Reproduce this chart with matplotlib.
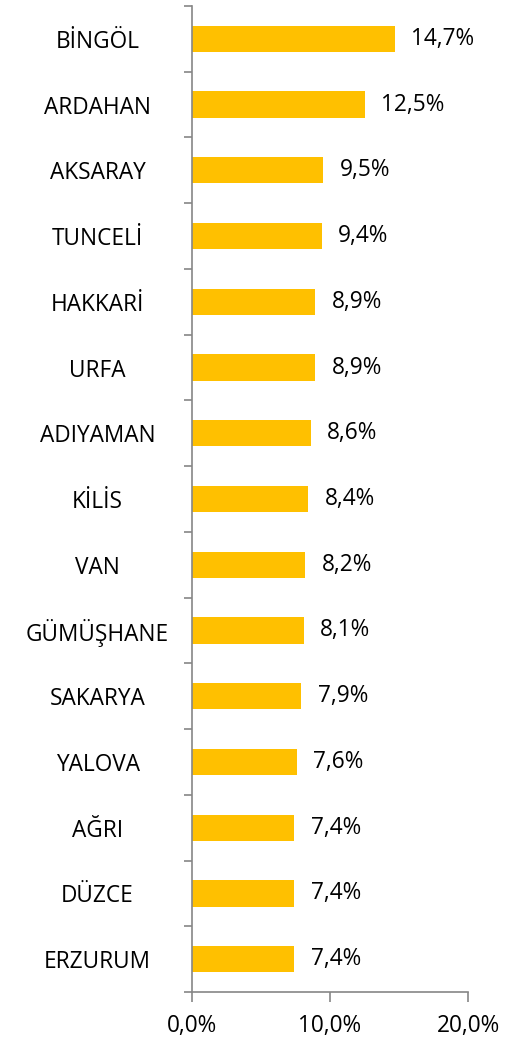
import matplotlib
matplotlib.use("Agg")
import matplotlib.pyplot as plt
import numpy as np

cities = ["BİNGÖL", "ARDAHAN", "AKSARAY", "TUNCELİ", "HAKKARİ", "URFA", "ADIYAMAN",
          "KİLİS", "VAN", "GÜMÜŞHANE", "SAKARYA", "YALOVA", "AĞRI", "DÜZCE", "ERZURUM"]
rates = [14.7, 12.5, 9.5, 9.4, 8.9, 8.9, 8.6, 8.4, 8.2, 8.1, 7.9, 7.6, 7.4, 7.4, 7.4]
xticks = [0, 10, 20]

plt.rcParams['font.family'] = ['Open Sans', 'DejaVu Sans']

fig = plt.figure(figsize=(5.10, 10.42), dpi=100)
ax = fig.add_axes([192/510, 1 - 992/1042, 276/510, 986/1042])

pos = np.arange(len(cities))
ax.barh(pos, rates, height=0.4, color="#FFC000")
for p, r in zip(pos, rates):
    ax.text(r + 1.2, p, f"{r:.1f}%".replace(".", ","), va="center", ha="left", fontsize=16.3)

ax.set_ylim(len(cities) - 0.5, -0.5)
ax.set_xlim(0, 20)
ax.set_yticks(pos)
ax.set_yticklabels(cities, ha="center", fontsize=16.3)
ax.set_yticks(np.arange(len(cities) + 1) - 0.5, minor=True)
ax.tick_params(axis="y", which="major", length=0, pad=68)
ax.tick_params(axis="y", which="minor", length=6, color="#868686", width=1.2)
ax.set_xticks(xticks)
ax.set_xticklabels([f"{t:.1f}%".replace(".", ",") for t in xticks], fontsize=16.3)
ax.tick_params(axis="x", length=7, color="#868686", width=1.2, pad=9)

for s in ["top", "right"]:
    ax.spines[s].set_visible(False)
for s in ["left", "bottom"]:
    ax.spines[s].set_color("#868686")
    ax.spines[s].set_linewidth(1.2)

fig.savefig("out.png", dpi=100)
